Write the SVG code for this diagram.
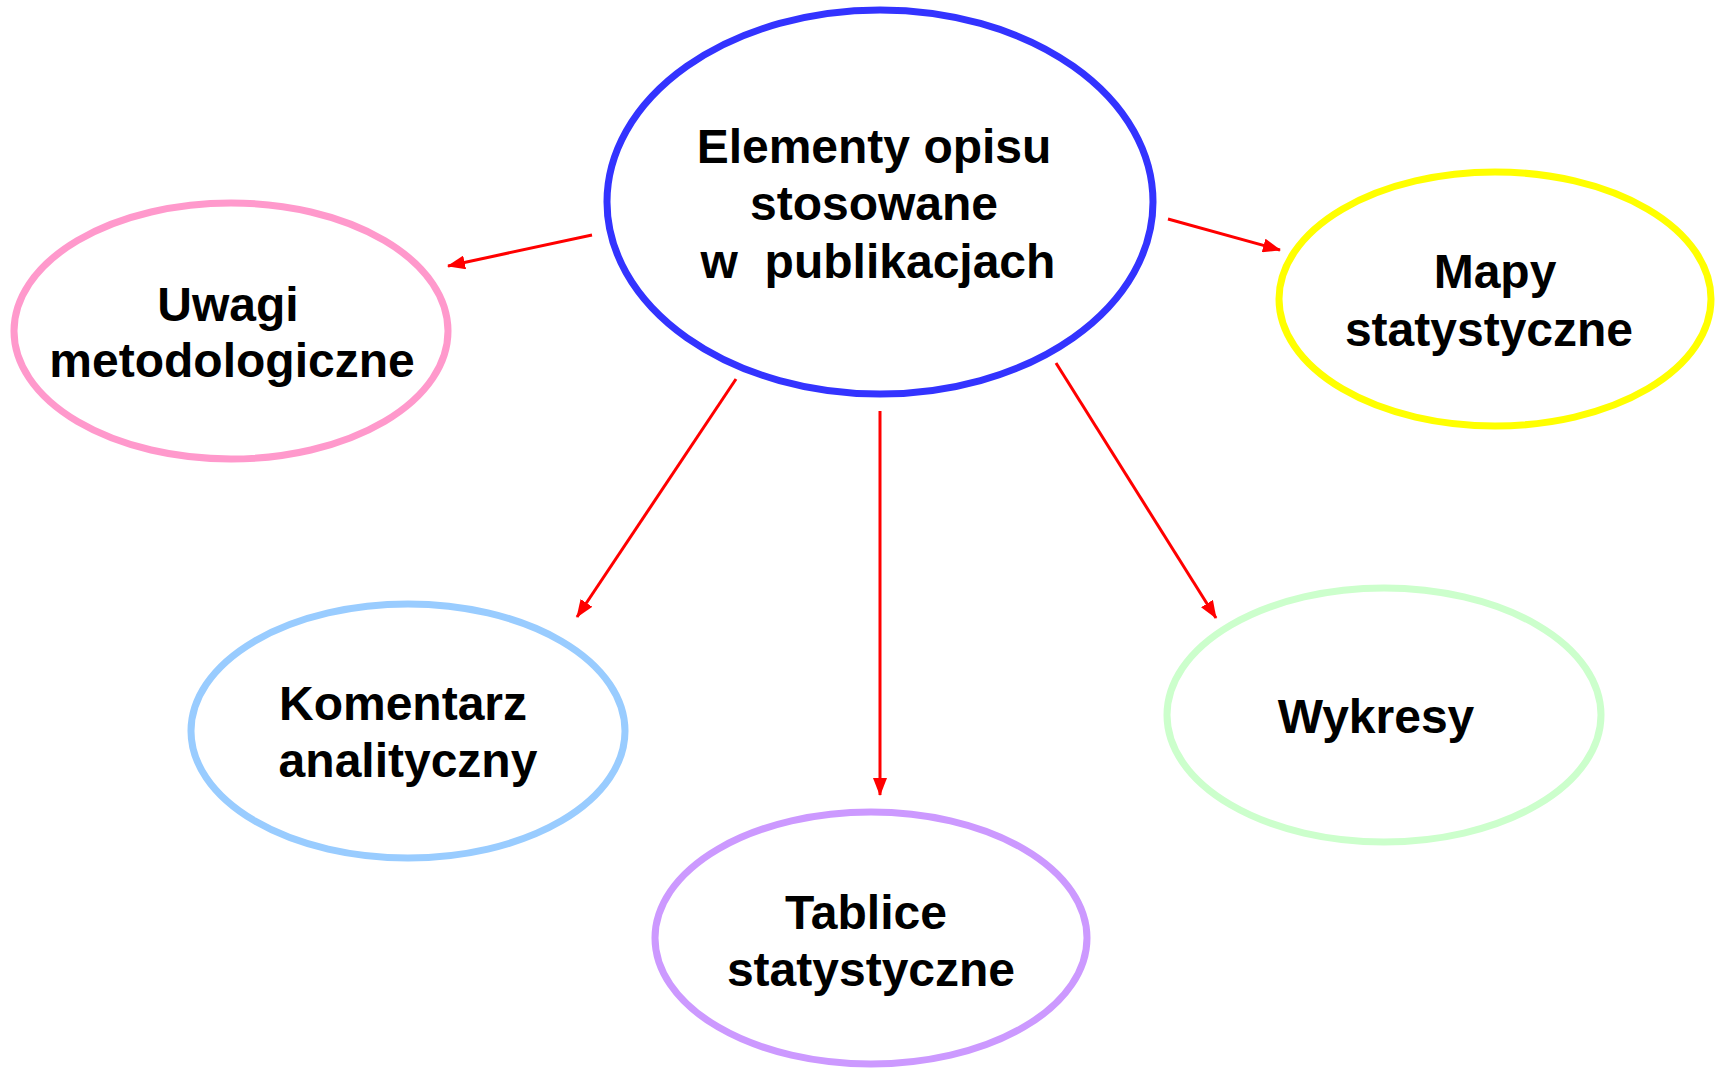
<svg xmlns="http://www.w3.org/2000/svg" width="1723" height="1069" viewBox="0 0 1723 1069">
<style>
  .node { fill: #FFFFFF; stroke-width: 7; }
  .lbl { font-family: "Liberation Sans", Arial, sans-serif; font-weight: bold; font-size: 48px; fill: #000000; text-anchor: middle; }
  .conn { stroke: #FF0000; stroke-width: 3; fill: none; marker-end: url(#arr); }
</style>
<defs>
  <marker id="arr" markerUnits="userSpaceOnUse" markerWidth="18" markerHeight="14" refX="17" refY="7" orient="auto">
    <path d="M0,0 L18,7 L0,14 Z" fill="#FF0000"/>
  </marker>
</defs>
<rect width="1723" height="1069" fill="#FFFFFF"/>
<g id="connectors">
  <line class="conn" x1="592" y1="235" x2="448" y2="266"/>
  <line class="conn" x1="1168" y1="219" x2="1280" y2="250"/>
  <line class="conn" x1="736" y1="379" x2="577" y2="617"/>
  <line class="conn" x1="880" y1="411" x2="880" y2="795"/>
  <line class="conn" x1="1056" y1="363" x2="1216" y2="618"/>
</g>
<g id="center">
  <ellipse class="node" cx="880" cy="202" rx="273" ry="192" stroke="#3333FF" stroke-width="8"/>
  <text class="lbl" x="874" y="163">Elementy opisu</text>
  <text class="lbl" x="874" y="220">stosowane</text>
  <text class="lbl" x="878" y="278" xml:space="preserve">w  publikacjach</text>
</g>
<g id="uwagi">
  <ellipse class="node" cx="231" cy="331" rx="217" ry="128" stroke="#FF99CC"/>
  <text class="lbl" x="228" y="321">Uwagi</text>
  <text class="lbl" x="232" y="377">metodologiczne</text>
</g>
<g id="mapy">
  <ellipse class="node" cx="1495" cy="299" rx="216" ry="127" stroke="#FFFF00"/>
  <text class="lbl" x="1495" y="288">Mapy</text>
  <text class="lbl" x="1489" y="346">statystyczne</text>
</g>
<g id="komentarz">
  <ellipse class="node" cx="408" cy="731" rx="217" ry="127" stroke="#99CCFF"/>
  <text class="lbl" x="403" y="720">Komentarz</text>
  <text class="lbl" x="408" y="777">analityczny</text>
</g>
<g id="tablice">
  <ellipse class="node" cx="871" cy="938" rx="216" ry="126" stroke="#CC99FF"/>
  <text class="lbl" x="866" y="929">Tablice</text>
  <text class="lbl" x="871" y="986">statystyczne</text>
</g>
<g id="wykresy">
  <ellipse class="node" cx="1384" cy="715" rx="217" ry="127" stroke="#CCFFCC"/>
  <text class="lbl" x="1376" y="733">Wykresy</text>
</g>
</svg>
